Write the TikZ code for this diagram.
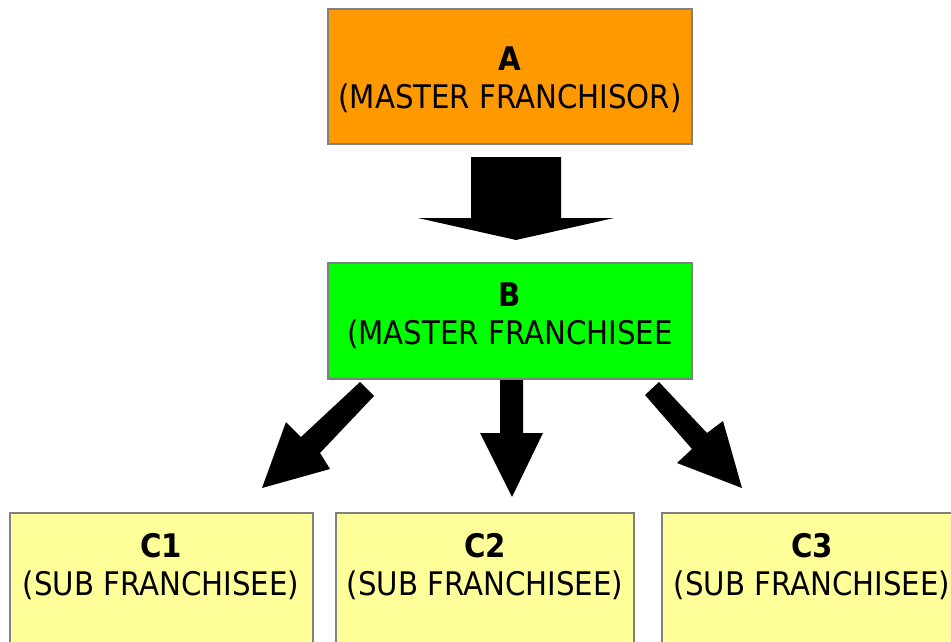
\documentclass[tikz,border=0pt]{standalone}
\usepackage{fontspec}
\setmainfont{DejaVu Sans Condensed}
\begin{document}
\begin{tikzpicture}[x=1pt,y=-1pt,
  boxstyle/.style={draw=black!50, line width=1.5pt, inner sep=0pt},
  txt/.style={align=center, font=\fontsize{32.5}{38}\selectfont, inner sep=0pt},
  blockarrow/.style={fill=black, draw=none}]
\useasboundingbox (0,0) rectangle (951,642);
% boxes
\node[boxstyle, fill={rgb,255:red,255;green,153;blue,0}, minimum width=364pt, minimum height=135pt] (A) at (510,76.5) {};
\node[boxstyle, fill={rgb,255:red,0;green,255;blue,0}, minimum width=364pt, minimum height=116pt] (B) at (510,321) {};
\draw[boxstyle, fill={rgb,255:red,255;green,255;blue,153}] (10,513) rectangle (313,660);
\draw[boxstyle, fill={rgb,255:red,255;green,255;blue,153}] (336,513) rectangle (634,660);
\draw[boxstyle, fill={rgb,255:red,255;green,255;blue,153}] (662,513) rectangle (960,660);
% texts
\node[txt] (tA) at (510,80) {\textbf{A}\\(MASTER FRANCHISOR)};
\node[txt] (tB) at (510,316) {\textbf{B}\\(MASTER FRANCHISEE};
\node[txt] (tC1) at (161,567) {\textbf{C1}\\(SUB FRANCHISEE)};
\node[txt] (tC2) at (485,567) {\textbf{C2}\\(SUB FRANCHISEE)};
\node[txt] (tC3) at (812,567) {\textbf{C3}\\(SUB FRANCHISEE)};
% arrows
\fill[blockarrow] (471,157) -- (561,157) -- (561,218) -- (614,218) -- (516,240) -- (418,218) -- (471,218) -- cycle;
\fill[blockarrow] (360,382) -- (374,396) -- (320,453) -- (330,469) -- (262,488) -- (286,422) -- (301,437) -- cycle;
\fill[blockarrow] (500,380) -- (523,380) -- (523,433) -- (543,433) -- (512,497) -- (480,433) -- (500,433) -- cycle;
\fill[blockarrow] (659,382) -- (645,395) -- (692,449) -- (677,463) -- (742,488) -- (723,421) -- (707,433) -- cycle;
\end{tikzpicture}
\end{document}
